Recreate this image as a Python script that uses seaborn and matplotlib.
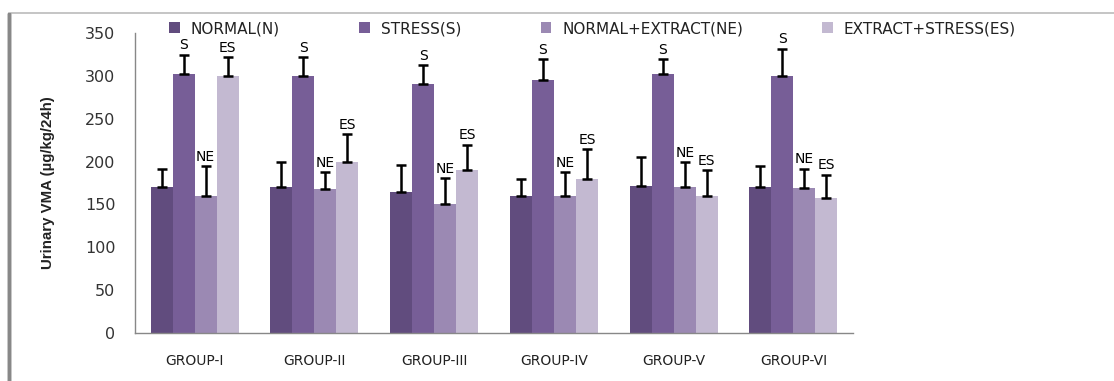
import numpy as np
import pandas as pd
import matplotlib
matplotlib.use("Agg")
import matplotlib.pyplot as plt
import seaborn as sns
from matplotlib.patches import Rectangle

groups = ["GROUP-I", "GROUP-II", "GROUP-III", "GROUP-IV", "GROUP-V", "GROUP-VI"]
series = ["NORMAL(N)", "STRESS(S)", "NORMAL+EXTRACT(NE)", "EXTRACT+STRESS(ES)"]
normal = [170, 170, 165, 160, 172, 170]
stress = [302, 300, 291, 295, 302, 300]
normal_extract = [160, 168, 151, 160, 170, 169]
extract_stress = [300, 200, 190, 180, 160, 157]
err_normal = [22, 30, 31, 20, 33, 25]
err_stress = [23, 22, 22, 25, 18, 32]
err_normal_extract = [35, 20, 30, 28, 30, 23]
err_extract_stress = [22, 32, 30, 35, 30, 28]
bar_labels = ["", "S", "NE", "ES"]
colors = ["#614c7e", "#775e97", "#9b89b3", "#c3b9d1"]

values = [normal, stress, normal_extract, extract_stress]
errors = [err_normal, err_stress, err_normal_extract, err_extract_stress]

df = pd.DataFrame({
    "group": np.tile(groups, len(series)),
    "series": np.repeat(series, len(groups)),
    "value": np.concatenate(values),
})

sns.set_style("white")
plt.rcParams["font.family"] = ["DejaVu Sans"]

fig = plt.figure(figsize=(11.14, 3.81), dpi=100)
ax = fig.add_axes([0.121, 0.126, 0.645, 0.787])

sns.barplot(data=df, x="group", y="value", hue="series", order=groups,
            hue_order=series, palette=colors, width=0.735, errorbar=None,
            saturation=1, ax=ax, legend=True, linewidth=0, edgecolor="none")

bars = [p for p in ax.patches if p.get_height() > 0]
for si in range(len(series)):
    for gi in range(len(groups)):
        p = bars[si * len(groups) + gi]
        xc = p.get_x() + p.get_width() / 2
        h = p.get_height()
        e = errors[si][gi]
        ax.errorbar(xc, h, yerr=[[0], [e]], fmt="none", ecolor="black",
                    elinewidth=1.8, capsize=3.5, capthick=1.8, zorder=5)
        if bar_labels[si]:
            ax.text(xc, h + e + 2.5, bar_labels[si], ha="center", va="bottom",
                    fontsize=10, color="black", zorder=6)

ax.set_ylim(0, 350)
ax.set_yticks(np.arange(0, 351, 50))
ax.set_xlim(-0.5, len(groups) - 0.5)
ax.set_xticks(np.arange(len(groups)))
ax.set_xticks(np.arange(-0.5, len(groups)), minor=True)
ax.tick_params(axis="x", which="major", length=0, pad=15, labelsize=10, labelcolor="#222222")
ax.tick_params(axis="x", which="minor", length=5, color="#888888", direction="out")
ax.tick_params(axis="y", length=7, color="#888888", direction="out", labelsize=11.5,
               labelcolor="#333333", pad=7)
ax.set_xlabel("")
ax.set_ylabel("Urinary VMA (\u00b5g/kg/24h)", fontsize=10.8, fontweight="bold",
              family=["Liberation Sans", "DejaVu Sans"], color="#222222")
ax.yaxis.set_label_coords(-0.111, 0.5)
for s in ["top", "right"]:
    ax.spines[s].set_visible(False)
for s in ["left", "bottom"]:
    ax.spines[s].set_color("#888888")
    ax.spines[s].set_linewidth(1)

handles, labels = ax.get_legend_handles_labels()
ax.get_legend().remove()
fig.legend(handles, labels, loc="center", bbox_to_anchor=(0.532, 0.925), ncol=4,
           frameon=False, fontsize=11, handlelength=0.7, handleheight=0.7,
           columnspacing=5.2, handletextpad=0.7, labelcolor="#222222")

fig.patches.append(Rectangle((0.008, -0.01), 1.0, 0.975, transform=fig.transFigure,
                             fill=False, edgecolor="#bbbbbb", linewidth=1.2))
fig.patches.append(Rectangle((0.008, -0.01), 0.0, 0.975, transform=fig.transFigure,
                             fill=False, edgecolor="#888888", linewidth=2.5))

fig.savefig("out.png", dpi=100)
